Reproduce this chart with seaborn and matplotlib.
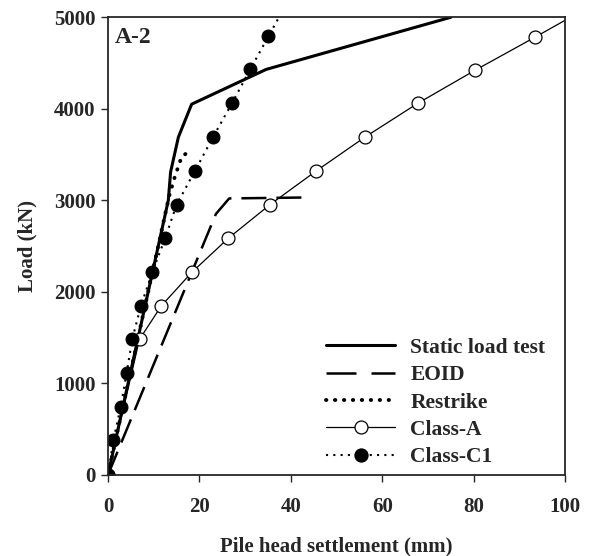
import numpy as np
import pandas as pd
import seaborn as sns
import matplotlib.pyplot as plt
from matplotlib.lines import Line2D

# values (settlement mm, load kN)
static_x = [0, 13.2, 13.7, 15.4, 18.3, 34.6, 75.0]
static_y = [0, 3000, 3310, 3690, 4050, 4430, 5000]

eoid_x = [0, 23.6, 26.5, 42.4]
eoid_y = [0, 2850, 3020, 3030]

restrike_x = [0, 13.4, 14.7, 15.4, 16.1, 17.9]
restrike_y = [0, 3050, 3270, 3370, 3475, 3540]

classa_x = [0, 6.9, 11.7, 18.4, 26.3, 35.4, 45.5, 56.2, 67.8, 80.3, 93.4, 106.5]
classa_y = [0, 1481, 1848, 2216, 2584, 2951, 3319, 3690, 4061, 4421, 4782, 5150]

classc1_x = [0, 1.2, 2.8, 4.1, 5.3, 7.2, 9.7, 12.5, 15.0, 19.0, 23.0, 27.1, 31.1, 35.1, 39.2]
classc1_y = [0, 382, 746, 1117, 1481, 1845, 2216, 2584, 2951, 3319, 3693, 4058, 4429, 4793, 5160]

sns.set_style('ticks')
plt.rcParams['font.family'] = ['Liberation Serif', 'DejaVu Serif']
plt.rcParams['font.weight'] = 'bold'

fig = plt.figure(figsize=(5.9, 5.56), dpi=100)
ax = fig.add_axes([0.183, 0.146, 0.775, 0.823])

df_s = pd.DataFrame({'x': static_x, 'y': static_y})
df_e = pd.DataFrame({'x': eoid_x, 'y': eoid_y})
df_r = pd.DataFrame({'x': restrike_x, 'y': restrike_y})
df_a = pd.DataFrame({'x': classa_x, 'y': classa_y})
df_c = pd.DataFrame({'x': classc1_x, 'y': classc1_y})

ms = 9.3
dash = (0, (10, 4))
sns.lineplot(data=df_s, x='x', y='y', sort=False, ax=ax, color='black', lw=2.2)
sns.lineplot(data=df_e, x='x', y='y', sort=False, ax=ax, color='black', lw=1.8,
             linestyle=dash)
sns.lineplot(data=df_r, x='x', y='y', sort=False, ax=ax, color='black', lw=2.8,
             linestyle=(0, (0.1, 2.2)))
ax.lines[-1].set_dash_capstyle('round')
sns.lineplot(data=df_a, x='x', y='y', sort=False, ax=ax, color='black', lw=0.9,
             marker='o', markersize=ms, markerfacecolor='white',
             markeredgecolor='black', markeredgewidth=0.9)
sns.lineplot(data=df_c, x='x', y='y', sort=False, ax=ax, color='black', lw=1.5,
             linestyle=(0, (1, 2.5)), marker='o', markersize=ms,
             markerfacecolor='black', markeredgecolor='black')

ax.set_xlim(0, 100)
ax.set_ylim(0, 5000)
ax.set_xticks([0, 20, 40, 60, 80, 100])
ax.set_yticks([0, 1000, 2000, 3000, 4000, 5000])
ax.tick_params(axis='both', direction='out', length=5, width=1, labelsize=15)
ax.tick_params(axis='x', pad=11)
ax.tick_params(axis='y', pad=4)
for s in ax.spines.values():
    s.set_linewidth(1.3)
    s.set_visible(True)

ax.set_xlabel('Pile head settlement (mm)', fontsize=15, fontweight='bold', labelpad=14)
ax.set_ylabel('Load (kN)', fontsize=15, fontweight='bold', labelpad=12)
ax.text(0.015, 0.978, 'A-2', transform=ax.transAxes, ha='left', va='top',
        fontsize=17, fontweight='bold')

r = Line2D([], [], color='black', lw=2.8, linestyle=(0, (0.1, 2.2)))
r.set_dash_capstyle('round')
handles = [
    Line2D([], [], color='black', lw=2.2),
    Line2D([], [], color='black', lw=1.8, linestyle=(0, (12, 6))),
    r,
    Line2D([], [], color='black', lw=0.9, marker='o', markersize=ms,
           markerfacecolor='white', markeredgewidth=0.9),
    Line2D([], [], color='black', lw=1.5, linestyle=(0, (1, 2.5)), marker='o',
           markersize=ms, markerfacecolor='black'),
]
labels = ['Static load test', 'EOID', 'Restrike', 'Class-A', 'Class-C1']
ax.legend(handles, labels, loc='lower right', frameon=False, fontsize=15.5,
          handlelength=3.2, handletextpad=0.7, labelspacing=0.34,
          bbox_to_anchor=(0.985, -0.012), borderaxespad=0.2, numpoints=1)

fig.savefig('out.png', dpi=100)
